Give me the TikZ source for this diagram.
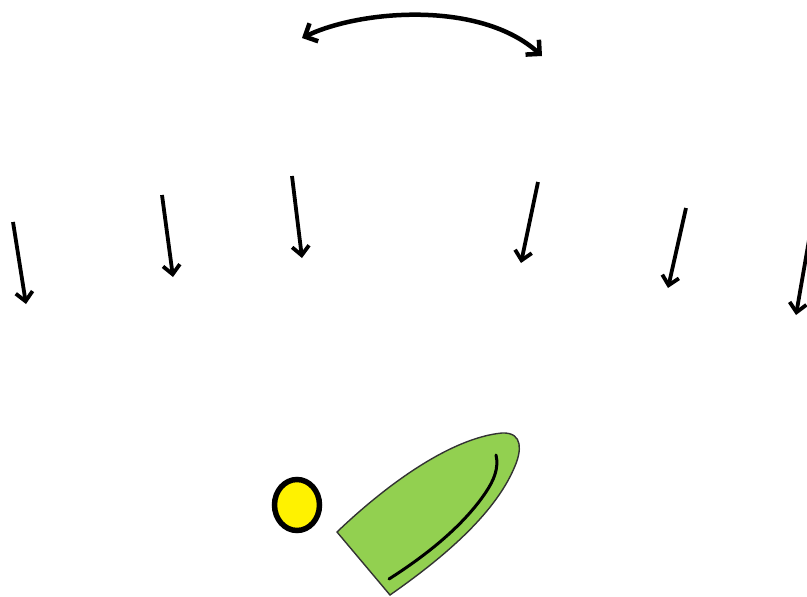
\documentclass[tikz,border=0pt]{standalone}
\usetikzlibrary{arrows.meta}
\begin{document}
\begin{tikzpicture}[x=1pt,y=-1pt,
  rain/.style={line width=3.8pt, -{Straight Barb[length=9pt,width=17pt,line width=3.8pt]}},
  swing/.style={line width=4.5pt, {Straight Barb[length=10pt,width=20pt,line width=4.5pt]}-{Straight Barb[length=10pt,width=20pt,line width=4.5pt]}}]
\useasboundingbox (0,0) rectangle (807,597);
% falling arrows
\coordinate (s1) at (13,222);  \coordinate (t1) at (26,304);
\coordinate (s2) at (162,195); \coordinate (t2) at (173,277);
\coordinate (s3) at (292,176); \coordinate (t3) at (302,258);
\coordinate (s4) at (538,182); \coordinate (t4) at (521,263);
\coordinate (s5) at (686,208); \coordinate (t5) at (668,288);
\coordinate (s6) at (809,240); \coordinate (t6) at (796,315);
\foreach \i in {1,...,6} \draw[rain] (s\i) -- (t\i);
% swinging arrow
\coordinate (l) at (302,38);
\coordinate (r) at (542,56);
\draw[swing] (l) .. controls (360,10) and (480,0) .. (r);
% sun
\draw[line width=5.5pt, fill=yellow] (297,505) ellipse [x radius=22.5, y radius=25.5];
% leaf
\draw[line width=1.4pt, draw=black!80, fill={rgb,255:red,146;green,208;blue,80}]
  (337,532) .. controls (385,486) and (450,438) .. (502,433)
  .. controls (524,432) and (521,452) .. (515,466)
  .. controls (495,515) and (440,560) .. (390,595) -- cycle;
\draw[line width=3pt, line cap=round] (496,455) .. controls (499,468) and (494,480) .. (486,492)
  .. controls (462,528) and (422,558) .. (389,579);
\end{tikzpicture}
\end{document}
